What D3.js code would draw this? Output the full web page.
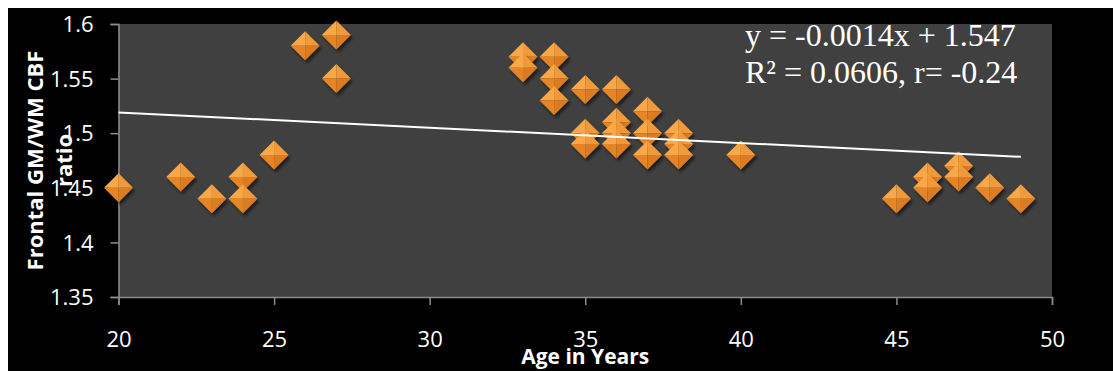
<!DOCTYPE html>
<html>
<head>
<meta charset="utf-8">
<script src="https://cdn.jsdelivr.net/npm/d3@7"></script>
<style>
  html, body { margin: 0; padding: 0; background: #ffffff; }
  svg { display: block; }
</style>
</head>
<body>
<svg id="chart" width="1113" height="371"></svg>
<script>
// ---- data ----
const ages   = [20, 22, 23, 24, 24, 25, 26, 27, 27,
                33, 33, 34, 34, 34, 35, 35, 35, 36, 36, 36, 36,
                37, 37, 37, 38, 38, 38, 40,
                45, 46, 46, 47, 47, 48, 49];
const ratios = [1.45, 1.46, 1.44, 1.46, 1.44, 1.48, 1.58, 1.59, 1.55,
                1.57, 1.56, 1.57, 1.55, 1.53, 1.54, 1.50, 1.49, 1.54, 1.51, 1.50, 1.49,
                1.52, 1.50, 1.48, 1.50, 1.49, 1.48, 1.48,
                1.44, 1.46, 1.45, 1.47, 1.46, 1.45, 1.44];
const xTickValues = [20, 25, 30, 35, 40, 45, 50];
const yTickValues = [1.35, 1.4, 1.45, 1.5, 1.55, 1.6];
const trendSlope = -0.0014;
const trendIntercept = 1.547;
const trendRange = [20, 49];
const equationLines = ["y = -0.0014x + 1.547", "R\u00B2 = 0.0606, r= -0.24"];
const xTitle = "Age in Years";
const yTitleLines = ["Frontal GM/WM CBF", "ratio"];

// ---- layout ----
const svg = d3.select("#chart");
const plot = { left: 118.5, right: 1052, top: 24, bottom: 297 };
const x = d3.scaleLinear().domain([20, 50]).range([plot.left, plot.right]);
const y = d3.scaleLinear().domain([1.35, 1.6]).range([plot.bottom, plot.top]);

const defs = svg.append("defs");
const f = defs.append("filter").attr("id", "shadow")
  .attr("x", "-50%").attr("y", "-50%").attr("width", "200%").attr("height", "200%");
f.append("feDropShadow").attr("dx", 2).attr("dy", 3).attr("stdDeviation", 1.8)
  .attr("flood-color", "#000").attr("flood-opacity", 0.55);

// chart background (black) with white margin top/left
svg.append("rect").attr("x", 8).attr("y", 8).attr("width", 1105).attr("height", 363).attr("fill", "#000");
// plot area
svg.append("rect").attr("x", plot.left).attr("y", plot.top)
  .attr("width", plot.right - plot.left).attr("height", plot.bottom - plot.top)
  .attr("fill", "#404040");

const tickFont = "'Open Sans', 'DejaVu Sans', sans-serif";

// y axis
const yAxis = svg.append("g").attr("transform", `translate(${plot.left},0)`)
  .call(d3.axisLeft(y).tickValues(yTickValues).tickSize(8).tickPadding(17).tickFormat(d => String(d)));
yAxis.select(".domain").attr("stroke", "#8c8c8c").attr("stroke-width", 1.5);
yAxis.selectAll(".tick line").attr("stroke", "#8c8c8c").attr("stroke-width", 1.5);
yAxis.selectAll(".tick text").attr("fill", "#fff").attr("font-family", tickFont)
  .attr("font-size", 22).attr("dy", "0.35em");

// x axis
const xAxis = svg.append("g").attr("transform", `translate(0,${plot.bottom})`)
  .call(d3.axisBottom(x).tickValues(xTickValues).tickSize(8).tickPadding(26).tickFormat(d => String(d)));
xAxis.select(".domain").attr("stroke", "#8c8c8c").attr("stroke-width", 1.5);
xAxis.selectAll(".tick line").attr("stroke", "#8c8c8c").attr("stroke-width", 1.5);
xAxis.selectAll(".tick text").attr("fill", "#fff").attr("font-family", tickFont)
  .attr("font-size", 22);

// markers: faceted orange diamonds
const r = 14.5;
const facets = [
  { d: `M0,${-r}L${-r},0L0,0Z`, fill: "#f8a848" },
  { d: `M0,${-r}L${r},0L0,0Z`,  fill: "#f19a3a" },
  { d: `M${-r},0L0,${r}L0,0Z`,  fill: "#e58526" },
  { d: `M${r},0L0,${r}L0,0Z`,   fill: "#dc7c20" }
];
const pts = ages.map((a, i) => ({ age: a, ratio: ratios[i] }));
const marks = svg.append("g").selectAll("g.pt").data(pts).join("g")
  .attr("class", "pt")
  .attr("transform", d => `translate(${x(d.age)},${y(d.ratio)})`)
  .attr("filter", "url(#shadow)");
facets.forEach(fc => {
  marks.append("path").attr("d", fc.d).attr("fill", fc.fill);
});

// trend line
svg.append("line")
  .attr("x1", x(trendRange[0])).attr("y1", y(trendSlope * trendRange[0] + trendIntercept))
  .attr("x2", x(trendRange[1])).attr("y2", y(trendSlope * trendRange[1] + trendIntercept))
  .attr("stroke", "#ffffff").attr("stroke-width", 2);

// equation
svg.append("g").selectAll("text").data(equationLines).join("text")
  .attr("x", 745).attr("y", (d, i) => 46 + i * 37)
  .attr("fill", "#fff").attr("font-family", "'Liberation Serif', 'Times New Roman', serif")
  .attr("font-size", 32).text(d => d);

// axis titles
svg.append("text").attr("x", (plot.left + plot.right) / 2).attr("y", 364)
  .attr("text-anchor", "middle").attr("fill", "#fff")
  .attr("font-family", tickFont).attr("font-weight", "bold").attr("font-size", 21)
  .text(xTitle);

const yMid = (plot.top + plot.bottom) / 2;
svg.append("g").selectAll("text").data(yTitleLines).join("text")
  .attr("transform", (d, i) => `translate(${43 + i * 29},${yMid}) rotate(-90)`)
  .attr("text-anchor", "middle").attr("fill", "#fff")
  .attr("font-family", tickFont).attr("font-weight", "bold").attr("font-size", 22)
  .text(d => d);
</script>
</body>
</html>
